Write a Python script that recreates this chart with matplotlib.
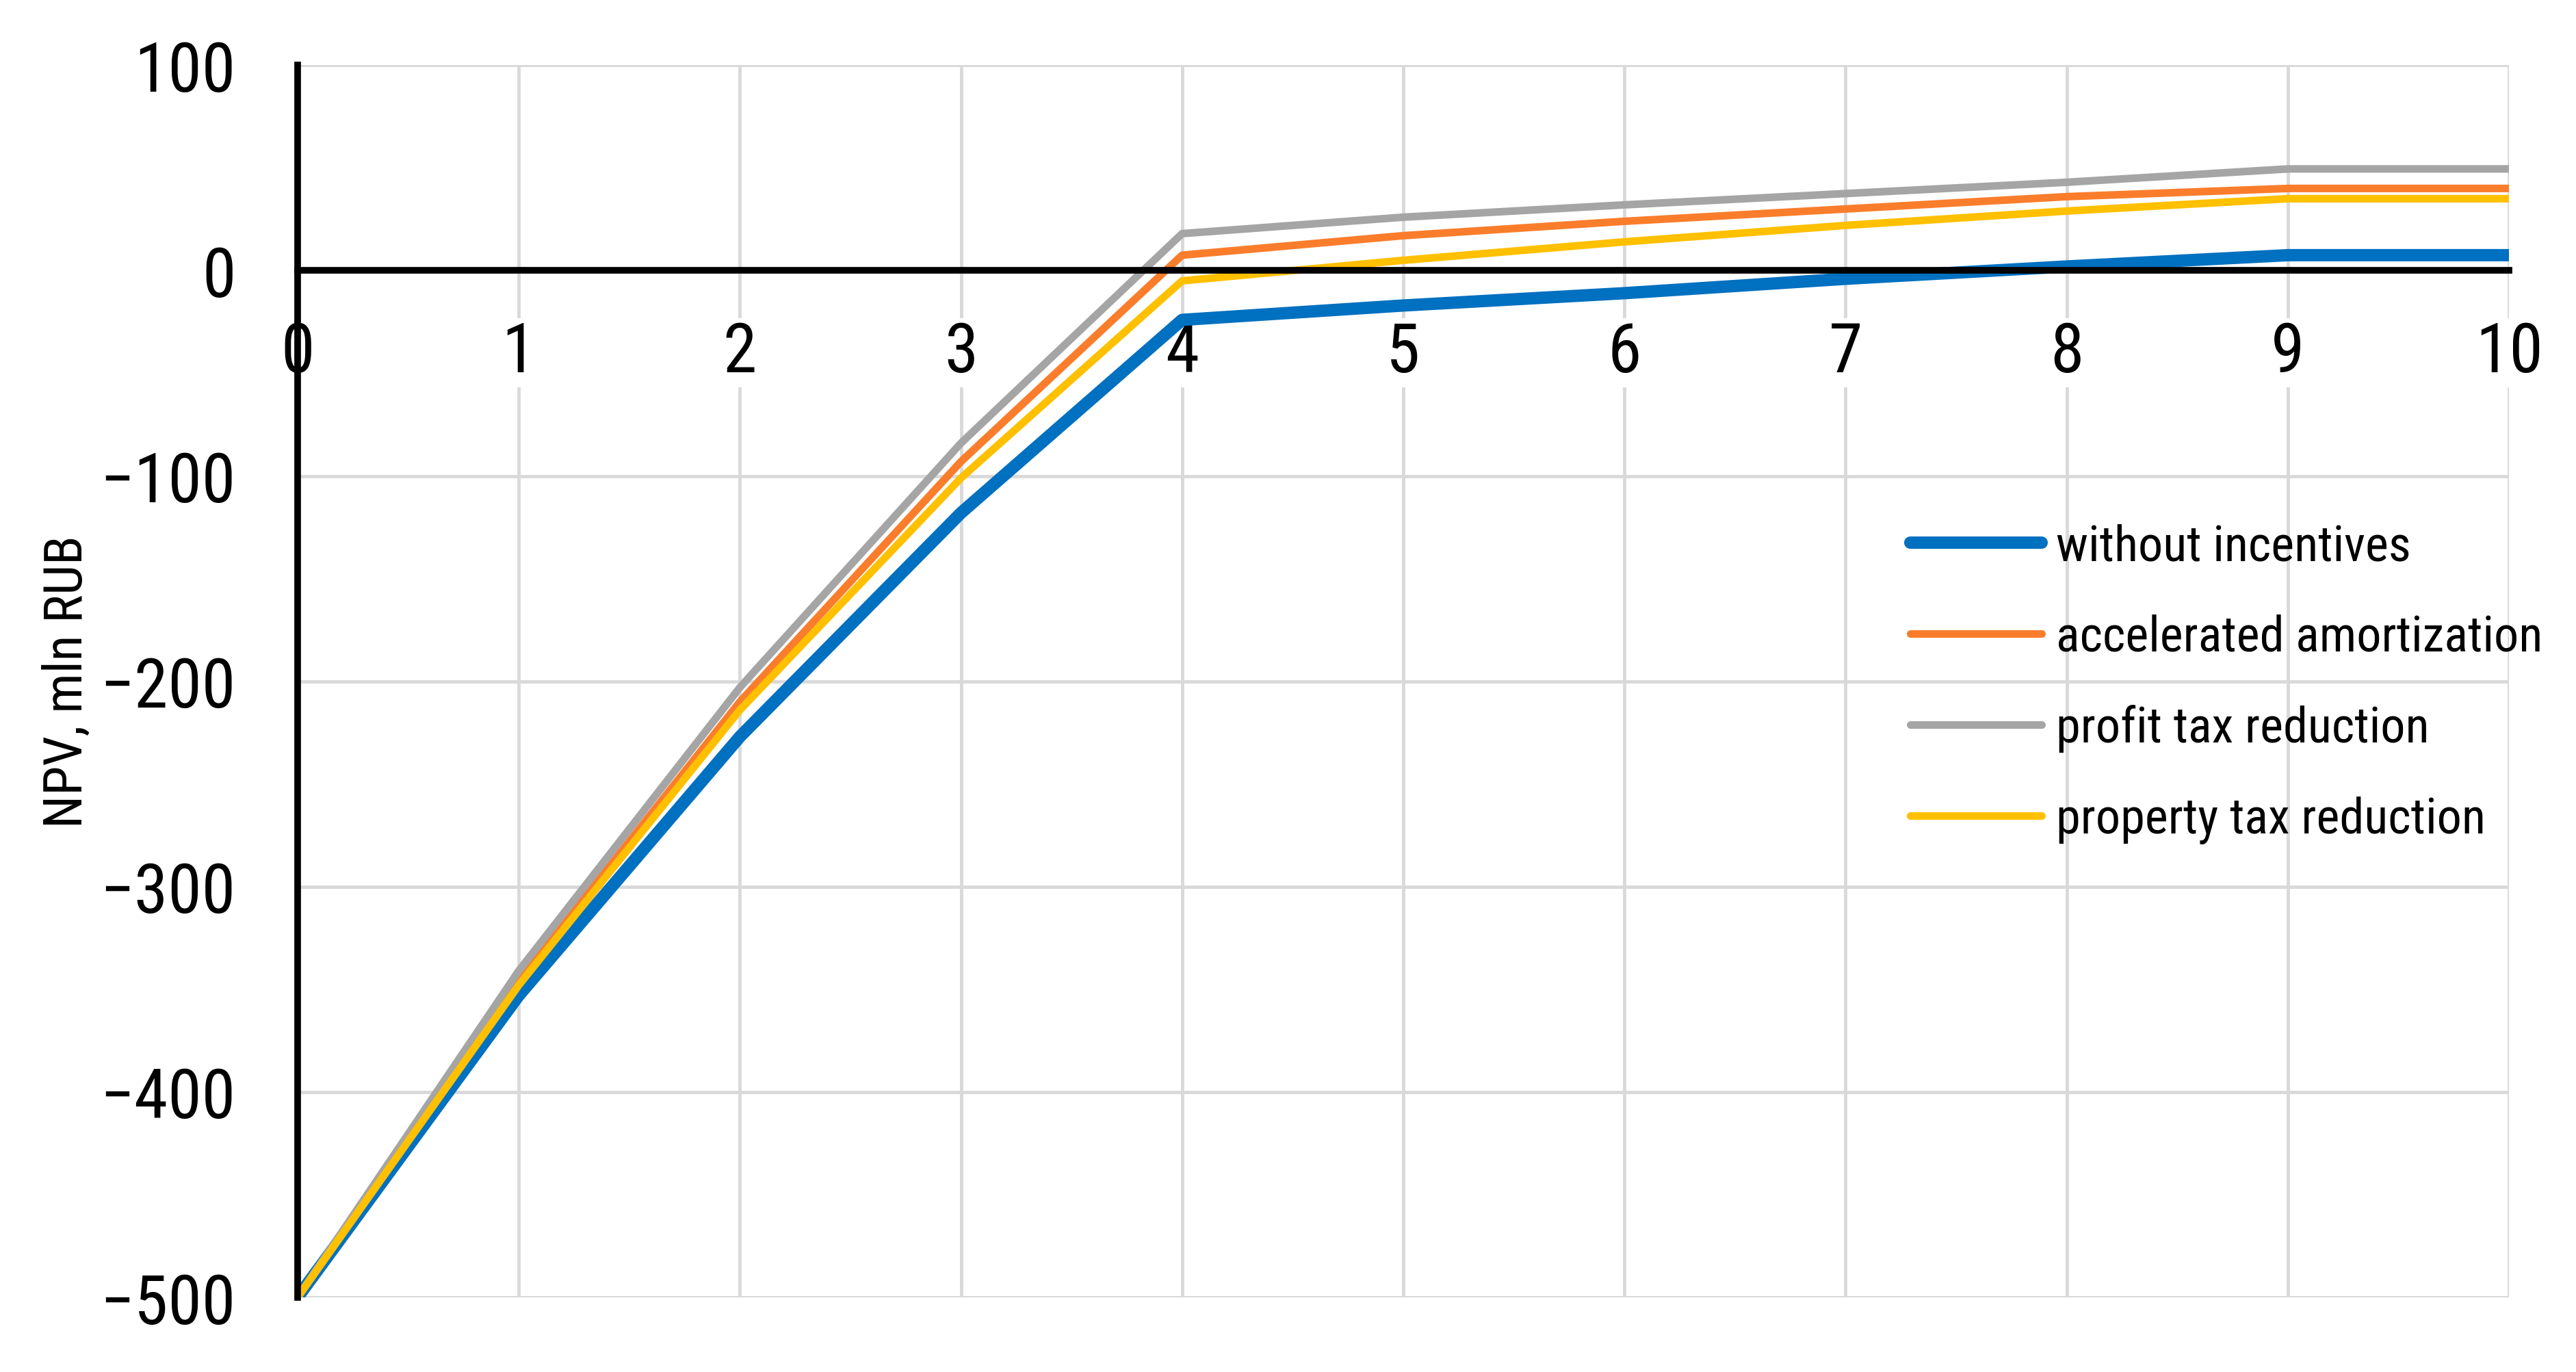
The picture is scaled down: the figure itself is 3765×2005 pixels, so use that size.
import matplotlib
matplotlib.use("Agg")
import matplotlib.pyplot as plt
from matplotlib import font_manager

# narrow Arial-like font with fallbacks
names = {f.name for f in font_manager.fontManager.ttflist}
fam = ['Roboto Condensed', 'Liberation Sans', 'DejaVu Sans']
fam = [f for f in fam if f in names] or ['DejaVu Sans']
plt.rcParams['font.family'] = fam

## Data
years = [0, 1, 2, 3, 4, 5, 6, 7, 8, 9, 10]
without_incentives = [-500, -353, -227, -118, -24, -17, -11, -4, 2, 7.5, 7.5]
accelerated_amortization = [-500, -346, -210, -93, 7.5, 17, 24, 30, 36, 40, 40]
profit_tax_reduction = [-500, -341, -203, -84, 18, 26, 32, 37.5, 43, 49.5, 49.5]
property_tax_reduction = [-500, -348, -214, -101, -5, 5, 14, 22, 29, 35, 35]

labels = ['without incentives', 'accelerated amortization',
          'profit tax reduction', 'property tax reduction']
series = [without_incentives, accelerated_amortization,
          profit_tax_reduction, property_tax_reduction]
colors = ['#0070C0', '#FA7D2C', '#A5A5A5', '#FFC000']
widths = [13, 8, 8, 8]

fig = plt.figure(figsize=(37.65, 20.06), dpi=100)
ax = fig.add_axes([0.1155, 0.0543, 0.974 - 0.1155, 0.952 - 0.0543])

for vals, lab, c, w in zip(series, labels, colors, widths):
    ax.plot(years, vals, color=c, lw=w, label=lab,
            solid_joinstyle='round', solid_capstyle='butt')

ax.set_xlim(0, 10)
ax.set_ylim(-500, 100)
ax.set_xticks(years)
ax.set_yticks(range(-500, 101, 100))
ax.grid(True, color='#D9D9D9', lw=3.5)
ax.set_axisbelow(True)

for s in ['top', 'right']:
    ax.spines[s].set_visible(False)
ax.spines['bottom'].set_position(('data', 0))
ax.spines['bottom'].set_linewidth(7)
ax.spines['left'].set_linewidth(7)
ax.spines['bottom'].set_zorder(3)
ax.spines['left'].set_zorder(3)

ax.tick_params(axis='both', length=0, labelsize=72)
ax.tick_params(axis='x', pad=52)
ax.tick_params(axis='y', pad=65)
for t in ax.get_xticklabels():
    t.set_bbox(dict(facecolor='white', edgecolor='none', pad=2))
    t.set_zorder(5)

ax.set_ylabel('NPV, mln RUB', fontsize=56)
ax.yaxis.set_label_coords(-0.0925, 0.5)

leg = ax.legend(loc='upper left', bbox_to_anchor=(0.7416, 0.6185),
                bbox_transform=fig.transFigure, frameon=False,
                fontsize=52, handlelength=2.65, handletextpad=0.3,
                labelspacing=0.88, borderpad=0, borderaxespad=0)
for h in leg.get_lines():
    h.set_solid_capstyle('round')

fig.savefig('out.png', dpi=100, facecolor='white')
